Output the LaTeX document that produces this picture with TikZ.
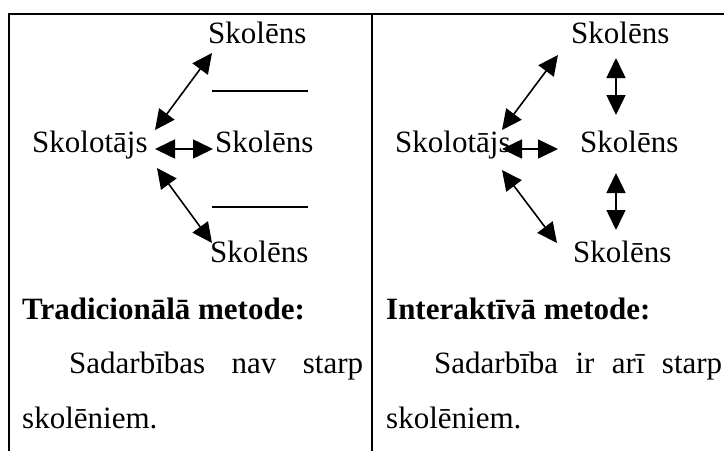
\documentclass[tikz,border=0pt]{standalone}
\usepackage{fontspec}
\setmainfont{Liberation Serif}
\usetikzlibrary{arrows.meta}
\begin{document}
\begin{tikzpicture}[x=1pt,y=-1pt,
  txt/.style={font=\fontsize{31}{37}\selectfont, inner sep=0pt, anchor=base west},
  head/.style={font=\fontsize{31}{37}\selectfont\bfseries, inner sep=0pt, anchor=base west},
  dbl/.style={{Triangle[length=20pt,width=19pt]}-{Triangle[length=20pt,width=19pt]}, line width=1.6pt},
  rule/.style={line width=1.8pt},
  frame/.style={line width=2pt}]
\useasboundingbox (0,0) rectangle (724,451);
% frame
\coordinate (f1) at (9,451);
\coordinate (f2) at (9,14);
\coordinate (f3) at (724,14);
\coordinate (d1) at (372,14);
\coordinate (d2) at (372,451);
\draw[frame] (f1) -- (f2) -- (f3);
\draw[frame] (d1) -- (d2);
% left panel
\node[txt] (lt) at (208,43) {Skolēns};
\node[txt] (lm) at (215,152) {Skolēns};
\node[txt] (lb) at (210,262) {Skolēns};
\node[txt] (lk) at (32,152) {Skolotājs};
\coordinate (la1) at (155,130); \coordinate (la2) at (212,53);
\coordinate (lb1) at (155,149); \coordinate (lb2) at (213,149);
\coordinate (lc1) at (157,168); \coordinate (lc2) at (212,243);
\draw[dbl] (la1) -- (la2);
\draw[dbl] (lb1) -- (lb2);
\draw[dbl] (lc1) -- (lc2);
\coordinate (lr1) at (212,91); \coordinate (lr2) at (308,91);
\coordinate (lr3) at (212,207); \coordinate (lr4) at (308,207);
\draw[rule] (lr1) -- (lr2);
\draw[rule] (lr3) -- (lr4);
% right panel
\node[txt] (rt) at (571,43) {Skolēns};
\node[txt] (rm) at (580,152) {Skolēns};
\node[txt] (rb) at (573,262) {Skolēns};
\node[txt] (rk) at (395,152) {Skolotājs};
\coordinate (ra1) at (502,130); \coordinate (ra2) at (558,55);
\coordinate (rb1) at (502,149); \coordinate (rb2) at (558,149);
\coordinate (rc1) at (502,170); \coordinate (rc2) at (557,243);
\coordinate (rv1) at (616,58); \coordinate (rv2) at (616,115);
\coordinate (rv3) at (616,173); \coordinate (rv4) at (616,230);
\draw[dbl] (ra1) -- (ra2);
\draw[dbl] (rb1) -- (rb2);
\draw[dbl] (rc1) -- (rc2);
\draw[dbl] (rv1) -- (rv2);
\draw[dbl] (rv3) -- (rv4);
% captions
\node[head] (lh) at (22,319) {Tradicionālā metode:};
\node[txt] (lp1) at (69,373) {\makebox[294pt][s]{Sadarbības nav starp}};
\node[txt] (lp2) at (22,428) {skolēniem.};
\node[head] (rh) at (386,319) {Interaktīvā metode:};
\node[txt] (rp1) at (434,373) {\makebox[288pt][s]{Sadarbība ir arī starp}};
\node[txt] (rp2) at (386,428) {skolēniem.};
\end{tikzpicture}
\end{document}
